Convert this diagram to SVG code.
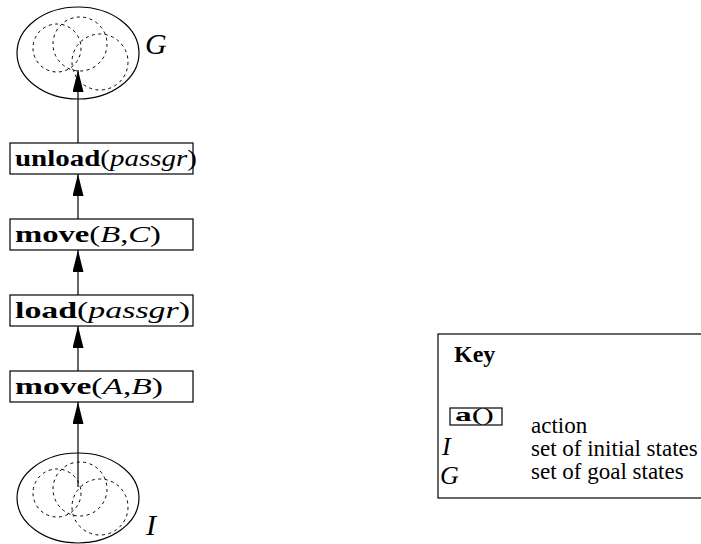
<svg xmlns="http://www.w3.org/2000/svg" width="701" height="544" viewBox="0 0 701 544">
  <defs>
    <style>
      .state { fill: none; stroke: #000; stroke-width: 1.2; }
      .sub { fill: none; stroke: #000; stroke-width: 1; stroke-dasharray: 3 3.5; }
      .act { fill: #fff; stroke: #000; stroke-width: 1.2; }
      text { font-family: "Liberation Serif", "Times New Roman", "DejaVu Serif", serif; fill: #000; }
      .lbl { font-size: 24px; }
      .b { font-weight: bold; }
      .i { font-style: italic; }
      .big { font-size: 30px; font-style: italic; }
      .sym { font-size: 26px; font-style: italic; }
      .key { font-size: 23px; }
      .edge { stroke: #000; stroke-width: 1.2; fill: none; marker-end: url(#head); }
    </style>
    <marker id="head" viewBox="0 0 22 11" refX="22" refY="5.5" markerWidth="22" markerHeight="11" markerUnits="userSpaceOnUse" orient="auto">
      <path d="M0,0 L22,5.5 L0,11 Z" fill="#000"/>
    </marker>
    <g id="spread">
      <circle cx="57" cy="48" r="24" class="sub"/>
      <circle cx="80" cy="44" r="27" class="sub"/>
      <circle cx="100" cy="62" r="28" class="sub"/>
    </g>
  </defs>

  <!-- goal states -->
  <g id="goal">
    <ellipse cx="78" cy="53" rx="61" ry="46" class="state"/>
    <use href="#spread"/>
    <text x="145" y="54" class="big">G</text>
  </g>

  <!-- initial states -->
  <g id="initial">
    <ellipse cx="78" cy="498" rx="61" ry="45" class="state"/>
    <use href="#spread" transform="translate(0,445)"/>
    <text x="146" y="535" class="big">I</text>
  </g>

  <!-- action boxes -->
  <g id="unload">
    <rect x="10" y="143" width="183" height="31" class="act"/>
    <text x="15" y="166" class="lbl" textLength="182" lengthAdjust="spacingAndGlyphs"><tspan class="b">unload</tspan>(<tspan class="i">passgr</tspan>)</text>
  </g>
  <g id="moveBC">
    <rect x="10" y="219" width="183" height="31" class="act"/>
    <text x="15" y="242" class="lbl" textLength="146" lengthAdjust="spacingAndGlyphs"><tspan class="b">move</tspan>(<tspan class="i">B</tspan>,<tspan class="i">C</tspan>)</text>
  </g>
  <g id="load">
    <rect x="10" y="295" width="183" height="31" class="act"/>
    <text x="15" y="318" class="lbl" textLength="175" lengthAdjust="spacingAndGlyphs"><tspan class="b">load</tspan>(<tspan class="i">passgr</tspan>)</text>
  </g>
  <g id="moveAB">
    <rect x="10" y="371" width="183" height="31" class="act"/>
    <text x="15" y="394" class="lbl" textLength="148" lengthAdjust="spacingAndGlyphs"><tspan class="b">move</tspan>(<tspan class="i">A</tspan>,<tspan class="i">B</tspan>)</text>
  </g>

  <!-- plan edges -->
  <g id="edges">
    <line x1="78" y1="487" x2="78" y2="402" class="edge"/>
    <line x1="78" y1="371" x2="78" y2="326" class="edge"/>
    <line x1="78" y1="295" x2="78" y2="250" class="edge"/>
    <line x1="78" y1="219" x2="78" y2="174" class="edge"/>
    <line x1="78" y1="143" x2="78" y2="70" class="edge"/>
  </g>

  <!-- key -->
  <g id="legend">
    <rect x="438" y="334" width="300" height="164" fill="none" stroke="#000" stroke-width="1.2"/>
    <text x="454" y="362" class="b" style="font-size:24px">Key</text>
    <rect x="450" y="408" width="52" height="17" class="act"/>
    <text x="455" y="421" style="font-size:19px" textLength="39" lengthAdjust="spacingAndGlyphs"><tspan class="b">a</tspan>()</text>
    <text x="531" y="433" class="key">action</text>
    <text x="442" y="455" class="sym">I</text>
    <text x="531" y="456" class="key">set of initial states</text>
    <text x="440" y="484" class="sym">G</text>
    <text x="531" y="479" class="key">set of goal states</text>
  </g>
</svg>
